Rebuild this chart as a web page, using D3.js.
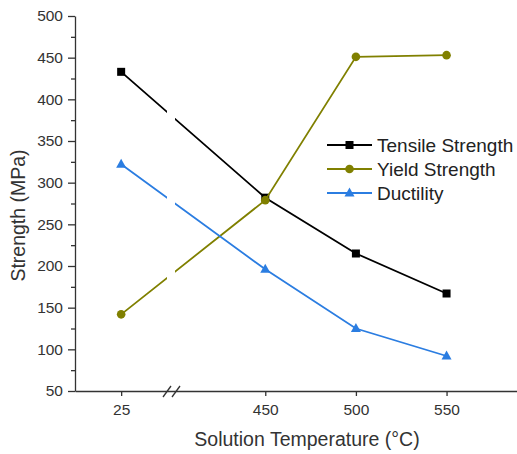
<!DOCTYPE html>
<html>
<head>
<meta charset="utf-8">
<script src="https://cdn.jsdelivr.net/npm/d3@7"></script>
<style>
  body { margin: 0; background: #fff; }
  svg { display: block; font-family: "Liberation Sans", Arial, sans-serif; }
</style>
</head>
<body>
<div id="chart"></div>
<script>
// Strength vs solution temperature (broken x axis)

const temperatures = [25, 450, 500, 550];
const tensileStrength = [433, 282, 215, 167];
const yieldStrength = [142, 279, 451, 453];
const ductility = [322, 196, 125, 92];
const yTicks = [50, 100, 150, 200, 250, 300, 350, 400, 450, 500];
const yMinorTicks = [75, 125, 175, 225, 275, 325, 375, 425, 475];

const seriesList = [
    { name: 'Tensile Strength', values: tensileStrength, color: '#000000', marker: 'square' },
    { name: 'Yield Strength', values: yieldStrength, color: '#808000', marker: 'circle' },
    { name: 'Ductility', values: ductility, color: '#2b7de1', marker: 'triangle' }
];

const W = 517, H = 454;
const plotLeft = 75, plotTop = 16, plotBottom = 391;
const breakX = 171;

const svg = d3.select('#chart').append('svg')
    .attr('width', W)
    .attr('height', H);

// Broken x scale: 0..52 on the left side, 398..590 on the right side
const x = d3.scaleLinear()
    .domain([0, 52, 398, 590])
    .range([plotLeft, breakX, breakX, breakX + 192 * (339 / 187)]);

const y = d3.scaleLinear()
    .domain([50, 500])
    .range([plotBottom, plotTop]);

// Clip out a small gap in the lines at the axis break
const clip = svg.append('defs').append('clipPath').attr('id', 'gap');
clip.append('rect').attr('x', 0).attr('y', 0).attr('width', breakX - 4).attr('height', H);
clip.append('rect').attr('x', breakX + 4).attr('y', 0).attr('width', W).attr('height', H);

// Y axis
const yAxis = svg.append('g')
    .attr('transform', `translate(${plotLeft},0)`)
    .call(d3.axisLeft(y).tickValues(yTicks).tickSize(7).tickSizeOuter(0).tickPadding(5));
yAxis.selectAll('text').style('font-size', '15.5px').attr('fill', '#333');

svg.append('g')
    .attr('transform', `translate(${plotLeft},0)`)
    .call(d3.axisLeft(y).tickValues(yMinorTicks).tickSize(4).tickSizeOuter(0).tickFormat(''))
    .select('.domain').remove();

// X axis
const xAxis = svg.append('g')
    .attr('transform', `translate(0,${plotBottom})`)
    .call(d3.axisBottom(x).tickValues(temperatures).tickSize(5).tickSizeOuter(0).tickPadding(8));
xAxis.selectAll('text').style('font-size', '15.5px').attr('fill', '#333');

svg.selectAll('.domain, .tick line').attr('stroke', '#333').attr('stroke-width', 1.3);

// Break marks on the x axis
[-4, 5].forEach(dx => {
    svg.append('line')
        .attr('x1', breakX + dx - 4).attr('y1', plotBottom + 6)
        .attr('x2', breakX + dx + 4).attr('y2', plotBottom - 5)
        .attr('stroke', '#333')
        .attr('stroke-width', 1.3);
});

// Axis titles
svg.append('text')
    .attr('x', 307)
    .attr('y', 446)
    .attr('text-anchor', 'middle')
    .style('font-size', '19.5px')
    .attr('fill', '#333')
    .text('Solution Temperature (°C)');

svg.append('text')
    .attr('transform', `translate(25,${(plotTop + plotBottom) / 2 + 12}) rotate(-90)`)
    .attr('text-anchor', 'middle')
    .style('font-size', '19.5px')
    .attr('fill', '#333')
    .text('Strength (MPa)');

const line = d3.line()
    .x((d, i) => x(temperatures[i]))
    .y(d => y(d));

function drawMarker(g, type, cx, cy, color) {
    if (type === 'square') {
        g.append('rect')
            .attr('x', cx - 4).attr('y', cy - 4)
            .attr('width', 8).attr('height', 8)
            .attr('fill', color);
    } else if (type === 'circle') {
        g.append('circle')
            .attr('cx', cx).attr('cy', cy).attr('r', 4.3)
            .attr('fill', color);
    } else {
        g.append('path')
            .attr('d', `M${cx},${cy - 5.5}L${cx + 5},${cy + 3.5}L${cx - 5},${cy + 3.5}Z`)
            .attr('fill', color);
    }
}

seriesList.forEach(s => {
    svg.append('path')
        .datum(s.values)
        .attr('d', line)
        .attr('fill', 'none')
        .attr('stroke', s.color)
        .attr('stroke-width', 1.8)
        .attr('clip-path', 'url(#gap)');

    const g = svg.append('g');
    s.values.forEach((v, i) => drawMarker(g, s.marker, x(temperatures[i]), y(v), s.color));
});

// Legend
const legend = svg.append('g');
seriesList.forEach((s, i) => {
    const ly = 145 + i * 24;
    legend.append('line')
        .attr('x1', 327).attr('x2', 372)
        .attr('y1', ly).attr('y2', ly)
        .attr('stroke', s.color)
        .attr('stroke-width', 1.8);
    drawMarker(legend, s.marker, 349.5, ly, s.color);
    legend.append('text')
        .attr('x', 377)
        .attr('y', ly + 7)
        .style('font-size', '19px')
        .attr('fill', '#222')
        .text(s.name);
});
</script>
</body>
</html>
